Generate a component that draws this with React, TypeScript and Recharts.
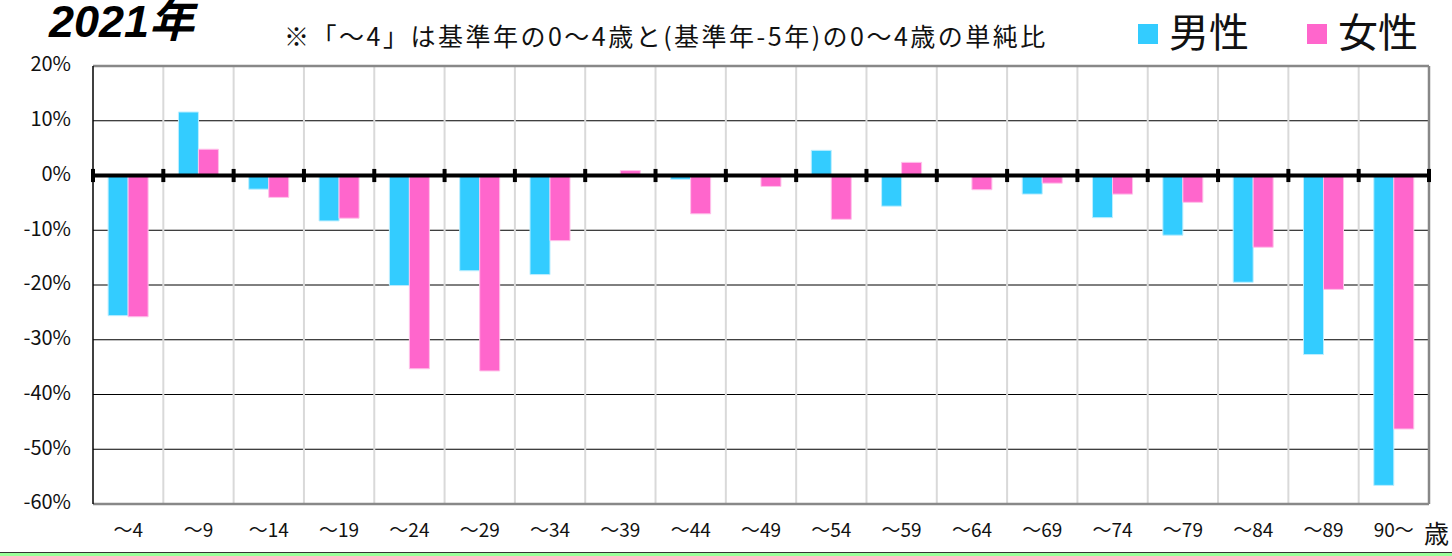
import React from 'react';
import {
  BarChart, Bar, XAxis, YAxis, CartesianGrid, ReferenceLine,
} from 'recharts';

const categories = ['～4', '～9', '～14', '～19', '～24', '～29', '～34', '～39', '～44', '～49',
  '～54', '～59', '～64', '～69', '～74', '～79', '～84', '～89', '90～'];
const male = [-25.6, 11.6, -2.5, -8.3, -20.1, -17.4, -18.1, 0, -0.7, 0,
  4.6, -5.6, 0, -3.4, -7.7, -10.9, -19.5, -32.7, -56.6];
const female = [-25.8, 4.8, -4.0, -7.8, -35.3, -35.7, -11.9, 0.9, -7.0, -2.0,
  -8.0, 2.4, -2.6, -1.4, -3.4, -4.9, -13.1, -20.8, -46.3];
const yTicks = [20, 10, 0, -10, -20, -30, -40, -50, -60];

const MALE = '#33CCFF';
const FEMALE = '#FF66CC';
const FONT = "'Noto Sans CJK JP', 'Noto Sans', sans-serif";

const data = categories.map((c, i) => ({ age: c, male: male[i], female: female[i] }));
const last = categories[categories.length - 1];

function XTick({ x, y, payload }: any) {
  return (
    <text x={x} y={y + 28} textAnchor="middle" dominantBaseline="middle"
      fontSize={19} fontFamily={FONT} fill="#111">
      {payload.value}
    </text>
  );
}

function YTick({ x, y, payload }: any) {
  return (
    <text x={x} y={y} textAnchor="end" dominantBaseline="middle"
      fontSize={20} fontFamily={FONT} fill="#111">
      {`${payload.value}%`}
    </text>
  );
}

export default function App() {
  return (
    <div style={{ position: 'absolute', left: 0, top: 0, width: 1452, height: 556, background: '#fff', fontFamily: FONT }}>
      <div style={{ position: 'absolute', left: 49, top: 0, fontSize: 45, lineHeight: '44px', fontWeight: 'bold', fontStyle: 'italic',
        fontFamily: "'Liberation Sans', 'Noto Sans CJK JP', sans-serif", color: '#000', whiteSpace: 'nowrap' }}>
        2021年
      </div>
      <div style={{ position: 'absolute', left: 284, top: 17, fontSize: 25, letterSpacing: 2.5, color: '#111', whiteSpace: 'nowrap' }}>
        ※「～4」は基準年の0～4歳と(基準年-5年)の0～4歳の単純比
      </div>
      <div style={{ position: 'absolute', left: 1138, top: 24, width: 20, height: 20, background: MALE }} />
      <div style={{ position: 'absolute', left: 1169, top: 6, fontSize: 40, color: '#111', lineHeight: '48px' }}>男性</div>
      <div style={{ position: 'absolute', left: 1307, top: 24, width: 20, height: 20, background: FEMALE }} />
      <div style={{ position: 'absolute', left: 1338, top: 6, fontSize: 40, color: '#111', lineHeight: '48px' }}>女性</div>
      <div style={{ position: 'absolute', left: 1424, top: 518, fontSize: 25, color: '#111', lineHeight: '28px' }}>歳</div>
      <div style={{ position: 'absolute', left: 0, top: 552, width: 1452, height: 1, background: '#333' }} />
      <div style={{ position: 'absolute', left: 0, top: 553, width: 1452, height: 3, background: '#99FF99' }} />

      <BarChart width={1452} height={556} data={data}
        margin={{ top: 66, right: 23, bottom: 22, left: 0 }}
        barCategoryGap="21.5%" barGap={0}>
        <XAxis dataKey="age" tick={<XTick />} tickLine={false} axisLine={false}
          tickSize={0} tickMargin={0} height={30} interval={0} />
        <YAxis domain={[-60, 20]} ticks={yTicks} width={93} tick={<YTick />}
          tickLine={false} tickSize={0} tickMargin={22} interval={0}
          axisLine={{ stroke: '#000', strokeWidth: 1.5 }} allowDataOverflow />
        <CartesianGrid vertical={false} stroke="#000" strokeWidth={1} />
        {categories.slice(1).map((c) => (
          <ReferenceLine key={`g${c}`} x={c} position="start" stroke="#d9d9d9" strokeWidth={2} />
        ))}
        <Bar dataKey="male" fill={MALE} stroke="#bdeeff" strokeWidth={1} isAnimationActive={false} />
        <Bar dataKey="female" fill={FEMALE} stroke="#ffc2ea" strokeWidth={1} isAnimationActive={false} />
        <ReferenceLine y={20} stroke="#888" strokeWidth={2.5} />
        <ReferenceLine y={-60} stroke="#888" strokeWidth={2.5} />
        <ReferenceLine x={last} position="end" stroke="#888" strokeWidth={2.5} />
        <ReferenceLine y={0} stroke="#000" strokeWidth={4} />
        {categories.map((c) => (
          <ReferenceLine key={`t${c}`} position="start" segment={[{ x: c, y: 1.2 }, { x: c, y: -1.2 }]}
            stroke="#000" strokeWidth={4} />
        ))}
        <ReferenceLine position="end" segment={[{ x: last, y: 1.2 }, { x: last, y: -1.2 }]}
          stroke="#000" strokeWidth={4} />
      </BarChart>
    </div>
  );
}
